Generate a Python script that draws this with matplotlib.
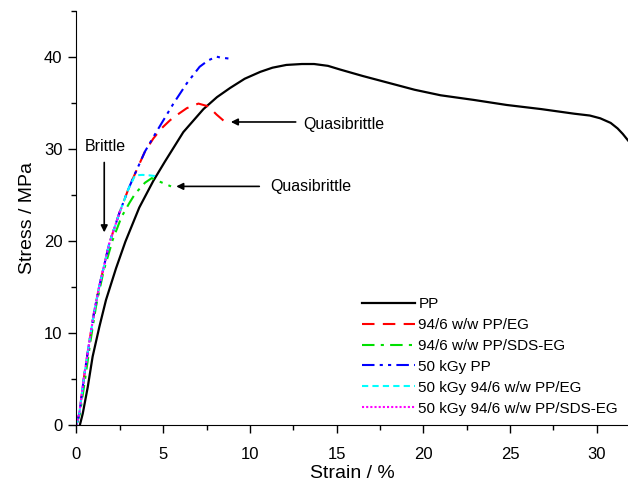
import matplotlib
matplotlib.use("Agg")
import matplotlib.pyplot as plt
from matplotlib.ticker import MultipleLocator

plt.rcParams['font.family'] = ['Liberation Sans', 'DejaVu Sans']

pp_x = [0.2, 0.36, 0.65, 0.93, 1.32, 1.7, 2.28, 2.82, 3.62, 4.43, 5.1, 6.16, 7.32, 8.1,
        8.86, 9.7, 10.6, 11.3, 12.1, 13.0, 13.7, 14.5, 15.2, 16.5, 18.1, 19.5, 21.0, 22.9,
        24.8, 26.8, 28.7, 29.6, 30.2, 30.8, 31.2, 31.5, 31.8]
pp_y = [0, 1.2, 4.1, 7.4, 10.65, 13.55, 17.0, 19.9, 23.6, 26.5, 28.6, 31.8, 34.3, 35.6,
        36.6, 37.6, 38.35, 38.8, 39.1, 39.2, 39.2, 39.0, 38.6, 37.9, 37.1, 36.4, 35.8, 35.3,
        34.75, 34.3, 33.8, 33.6, 33.3, 32.8, 32.2, 31.6, 30.9]

eg_x = [0, 0.16, 0.45, 0.74, 1.03, 1.32, 1.89, 2.47, 2.99, 3.38, 3.95, 4.43, 4.9, 5.4, 5.9,
        6.36, 7.03, 7.6, 8.08, 8.57]
eg_y = [0, 1.2, 5.4, 9.0, 12.4, 15.1, 19.7, 23.0, 25.6, 27.3, 29.7, 31.1, 32.2, 33.1, 33.8,
        34.4, 34.9, 34.6, 33.7, 32.9]

sds_x = [0, 0.2, 0.5, 0.8, 1.12, 1.55, 2.09, 2.6, 3.05, 3.38, 3.95, 4.34, 4.82, 5.2, 5.45]
sds_y = [0, 1.2, 5.0, 9.0, 12.8, 16.6, 20.1, 22.6, 24.1, 25.1, 26.3, 26.8, 26.4, 26.1, 25.9]

irpp_x = [0, 0.16, 0.45, 0.74, 1.03, 1.32, 1.89, 2.47, 2.99, 3.38, 3.95, 4.6, 5.59, 6.36,
          7.1, 7.6, 8.08, 8.3, 8.76]
irpp_y = [0, 1.2, 5.4, 9.0, 12.4, 15.1, 19.7, 23.0, 25.6, 27.3, 29.7, 31.8, 34.9, 37.1,
          38.9, 39.6, 40.0, 39.9, 39.8]

ireg_x = [0, 0.16, 0.45, 0.74, 1.03, 1.32, 1.89, 2.47, 2.99, 3.38, 3.8, 4.2, 4.63]
ireg_y = [0, 1.2, 5.4, 9.0, 12.4, 15.1, 19.7, 23.0, 25.6, 27.1, 27.15, 27.1, 27.0]

irsds_x = [0, 0.16, 0.45, 0.74, 1.03, 1.32, 1.89, 2.47, 2.6]
irsds_y = [0, 1.2, 5.4, 9.0, 12.4, 15.1, 19.7, 23.0, 23.6]

labels = ["PP", "94/6 w/w PP/EG", "94/6 w/w PP/SDS-EG", "50 kGy PP",
          "50 kGy 94/6 w/w PP/EG", "50 kGy 94/6 w/w PP/SDS-EG"]

fig = plt.figure(figsize=(6.28, 4.86), dpi=100)
ax = fig.add_axes([0.1218, 0.1261, 0.8782, 0.852])

ax.plot(pp_x, pp_y, color='black', lw=1.6, label=labels[0])
ax.plot(eg_x, eg_y, color='red', lw=1.5, dashes=(6, 4), label=labels[1])
ax.plot(sds_x, sds_y, color='#00e000', lw=1.5, dashes=(6, 3, 1.5, 3), label=labels[2])
ax.plot(irpp_x, irpp_y, color='blue', lw=1.5, dashes=(6, 2.5, 1.5, 2.5, 1.5, 2.5), label=labels[3])
ax.plot(ireg_x, ireg_y, color='cyan', lw=1.5, dashes=(3, 2), label=labels[4])
ax.plot(irsds_x, irsds_y, color='magenta', lw=1.5, dashes=(1, 1), label=labels[5])

ax.set_xlim(0, 31.8)
ax.set_ylim(0, 45)
ax.spines['top'].set_visible(False)
ax.spines['right'].set_visible(False)
ax.xaxis.set_major_locator(MultipleLocator(5))
ax.xaxis.set_minor_locator(MultipleLocator(2.5))
ax.yaxis.set_major_locator(MultipleLocator(10))
ax.yaxis.set_minor_locator(MultipleLocator(5))
ax.tick_params(which='major', direction='out', length=6, width=1, labelsize=12)
ax.tick_params(axis='x', which='major', pad=10)
ax.tick_params(axis='y', which='major', pad=4)
ax.tick_params(which='minor', direction='out', length=3.6, width=1)
ax.set_xlabel("Strain / %", fontsize=14, labelpad=2)
ax.set_ylabel("Stress / MPa", fontsize=14, labelpad=6)

arrow = dict(arrowstyle='-|>', color='black', lw=1.2, mutation_scale=10)
ax.annotate("", xy=(1.6, 20.6), xytext=(1.6, 28.8), arrowprops=arrow)
ax.text(1.65, 30.2, "Brittle", fontsize=11.5, ha='center', va='center')

ax.annotate("", xy=(8.74, 32.9), xytext=(12.8, 32.9), arrowprops=arrow)
ax.text(13.07, 32.6, "Quasibrittle", fontsize=11.5, ha='left', va='center')

ax.annotate("", xy=(5.59, 25.9), xytext=(10.7, 25.9), arrowprops=arrow)
ax.text(11.17, 25.9, "Quasibrittle", fontsize=11.5, ha='left', va='center')

ax.legend(loc='lower left', bbox_to_anchor=(0.501, 0.0), frameon=False, fontsize=11,
          handlelength=3.5, handletextpad=0.2, labelspacing=0.45, borderaxespad=0.2)

fig.savefig("out.png", dpi=100)
